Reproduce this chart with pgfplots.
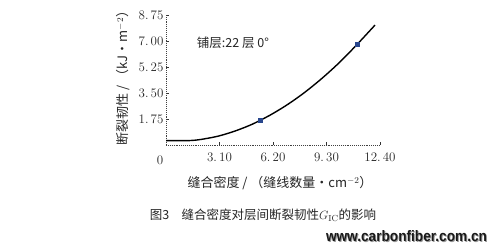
\documentclass[border=0pt]{standalone}
\usepackage{pgfplots}
\pgfplotsset{compat=1.18}
\usepackage{fontspec}
\newfontfamily\cjk{Noto Sans CJK SC}
\newfontfamily\wm{Liberation Sans}
\definecolor{mk}{RGB}{40,70,140}
\begin{document}
\begin{tikzpicture}[x=1pt,y=1pt]
\useasboundingbox (0,0) rectangle (500,249);
\fill[white] (0,0) rectangle (500,249);
\begin{axis}[
  at={(166pt,104pt)}, anchor=south west,
  scale only axis, width=214pt, height=130pt,
  xmin=0, xmax=12.4, ymin=0, ymax=8.75,
  axis lines=left,
  axis line style={black!75, densely dotted, line width=0.9pt, -},
  xtick={3.1,6.2,9.3,12.4},
  xticklabels={3.\,10,6.\,20,9.\,30,12.\,40},
  ytick={1.75,3.5,5.25,7,8.75},
  yticklabels={1.\,75,3.\,50,5.\,25,7.\,00,8.\,75},
  tick align=inside,
  major tick length=3pt,
  tick style={black!80, line width=0.6pt},
  tick label style={font=\fontsize{13}{15}\selectfont, text=black!85},
  xticklabel style={yshift=-4pt},
  yticklabel style={xshift=1pt},
  clip=false,
]
\addplot[black, line width=1.4pt, smooth, tension=0.5] coordinates {
(0,0.29) (0.7,0.29) (1.4,0.30) (2,0.37) (3,0.59) (4,0.94) (5,1.40) (6,1.99) (7,2.69) (8,3.51) (9,4.45) (10,5.50) (11,6.68) (12.11,8.07)
};
\addplot[only marks, mark=square*, mark size=2.2pt, mk] coordinates {(5.45,1.65) (11.08,6.78)};
\end{axis}
\node[font=\fontsize{13}{15}\selectfont, text=black!85] at (160,89) {0};
\node[font=\cjk\fontsize{13}{15}\selectfont, text=black!85] at (280,66) {缝合密度 / （缝线数量·cm$^{-2}$）};
\node[font=\cjk\fontsize{13}{15}\selectfont, text=black!85, rotate=90] at (123,174) {断裂韧性 / （kJ·m$^{-2}$）};
\node[font=\cjk\fontsize{12.5}{15}\selectfont, text=black!85] at (233,206) {铺层:22 层 0°};
\node[font=\cjk\fontsize{12.5}{15}\selectfont, text=black!85] at (263,34) {图3\quad 缝合密度对层间断裂韧性$G_{\mathrm{IC}}$的影响};
\node[text=black!40] at (407.5,11.5) {\resizebox{161pt}{11pt}{\wm\bfseries www.carbonfiber.com.cn}};
\node[text=black!90] at (406.5,12.5) {\resizebox{161pt}{11pt}{\wm\bfseries www.carbonfiber.com.cn}};
\end{tikzpicture}
\end{document}
